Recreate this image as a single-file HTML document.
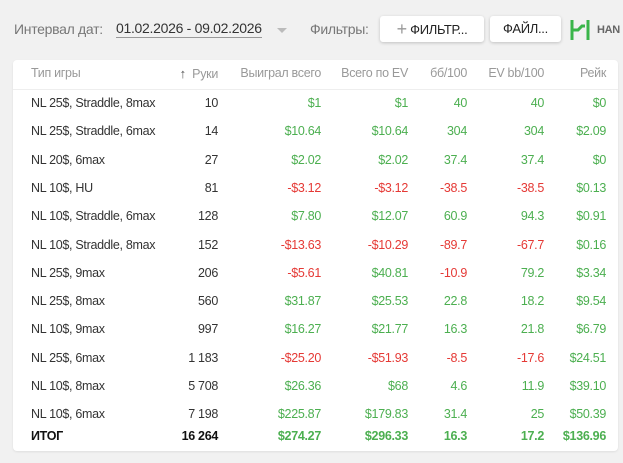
<!DOCTYPE html>
<html><head><meta charset="utf-8"><style>
body{margin:0;width:623px;height:463px;background:#f1f1f1;font-family:"Liberation Sans",sans-serif;overflow:hidden;position:relative;letter-spacing:-0.3px}
.a{position:absolute;white-space:nowrap}
.card{position:absolute;left:13px;top:60px;width:605px;height:391px;background:#fff;border-radius:4px;box-shadow:0 1px 2px rgba(0,0,0,.08)}
.cell{position:absolute;font-size:12.5px;color:#333;white-space:nowrap}
.g{color:#4caf50}.n{color:#e53935}
.h{color:#999}
.btn{position:absolute;top:16px;height:26px;background:#fff;border-radius:3px;box-shadow:0 1px 3px rgba(0,0,0,.2);font-size:13px;color:#222;line-height:26px;text-align:center}
</style></head><body>
<div class="a" style="left:14px;top:21px;font-size:14px;color:#777">Интервал дат:</div>
<div class="a" style="left:116px;top:20px;font-size:14px;color:#333;border-bottom:1px solid #999;padding-bottom:1px">01.02.2026 - 09.02.2026</div>
<div class="a" style="left:277px;top:28px;width:0;height:0;border-left:5px solid transparent;border-right:5px solid transparent;border-top:5px solid #bbb"></div>
<div class="a" style="left:310px;top:21px;font-size:14px;color:#777">Фильтры:</div>
<div class="btn" style="left:380px;width:104px"><span style="color:#999;font-size:18px;vertical-align:-1px">+</span> ФИЛЬТР...</div>
<div class="btn" style="left:490px;width:71px">ФАЙЛ...</div>
<svg class="a" style="left:570px;top:19px" width="20" height="22"><path d="M2 1v20M2 11h6l4-4h3M18 1v20" stroke="#3ab54a" stroke-width="3" fill="none"/></svg>
<div class="a" style="left:597px;top:24px;font-size:11px;font-weight:bold;color:#666">HAN</div>
<div class="card"></div>
<div id="t"></div>
<script>
const games=["NL 25$, Straddle, 8max","NL 25$, Straddle, 6max","NL 20$, 6max","NL 10$, HU","NL 10$, Straddle, 6max","NL 10$, Straddle, 8max","NL 25$, 9max","NL 25$, 8max","NL 10$, 9max","NL 25$, 6max","NL 10$, 8max","NL 10$, 6max"];
const hands=["10","14","27","81","128","152","206","560","997","1 183","5 708","7 198"];
const won=["$1","$10.64","$2.02","-$3.12","$7.80","-$13.63","-$5.61","$31.87","$16.27","-$25.20","$26.36","$225.87"];
const ev=["$1","$10.64","$2.02","-$3.12","$12.07","-$10.29","$40.81","$25.53","$21.77","-$51.93","$68","$179.83"];
const bb=["40","304","37.4","-38.5","60.9","-89.7","-10.9","22.8","16.3","-8.5","4.6","31.4"];
const evbb=["40","304","37.4","-38.5","94.3","-67.7","79.2","18.2","21.8","-17.6","11.9","25"];
const rake=["$0","$2.09","$0","$0.13","$0.91","$0.16","$3.34","$9.54","$6.79","$24.51","$39.10","$50.39"];
const total=["ИТОГ","16 264","$274.27","$296.33","16.3","17.2","$136.96"];
const headers=["Тип игры","Руки","Выиграл всего","Всего по EV","бб/100","EV bb/100","Рейк"];
const rights=[null,218,321,408,467,544,606];
const names=["game-type","hands","won-total","ev-total","bb100","ev-bb100","rake"];
const t=document.getElementById('t');
function cell(txt,col,y,cls,name){const d=document.createElement('div');d.className='cell '+cls;d.textContent=txt;
if(col===0){d.style.left='31px';}else{d.style.right=(623-rights[col])+'px';}
d.style.top=y+'px';


t.appendChild(d);return d;}
headers.forEach((h,i)=>{const d=cell(h,i,66,'h','header-'+names[i]);if(i===1){d.innerHTML='<b style="color:#555;font-size:13px">↑</b>&nbsp; Руки';}});
const line=document.createElement('div');line.className='a';line.style.cssText='left:13px;top:89px;width:605px;height:1px;background:#eee';


t.appendChild(line);
const cols=[games,hands,won,ev,bb,evbb,rake];
for(let r=0;r<games.length;r++){const y=96+r*28.3;
cols.forEach((c,i)=>{const v=c[r];let cls='';if(i>=2)cls=v.startsWith('-')?'n':'g';cell(v,i,y,cls,'row-'+(r+1)+'-'+names[i]);});}
total.forEach((v,i)=>{const d=cell(v,i,429,i>=2?'g':'','total-'+names[i]);d.style.fontWeight='bold';if(i<2)d.style.color='#111';});
</script>
</body></html>
